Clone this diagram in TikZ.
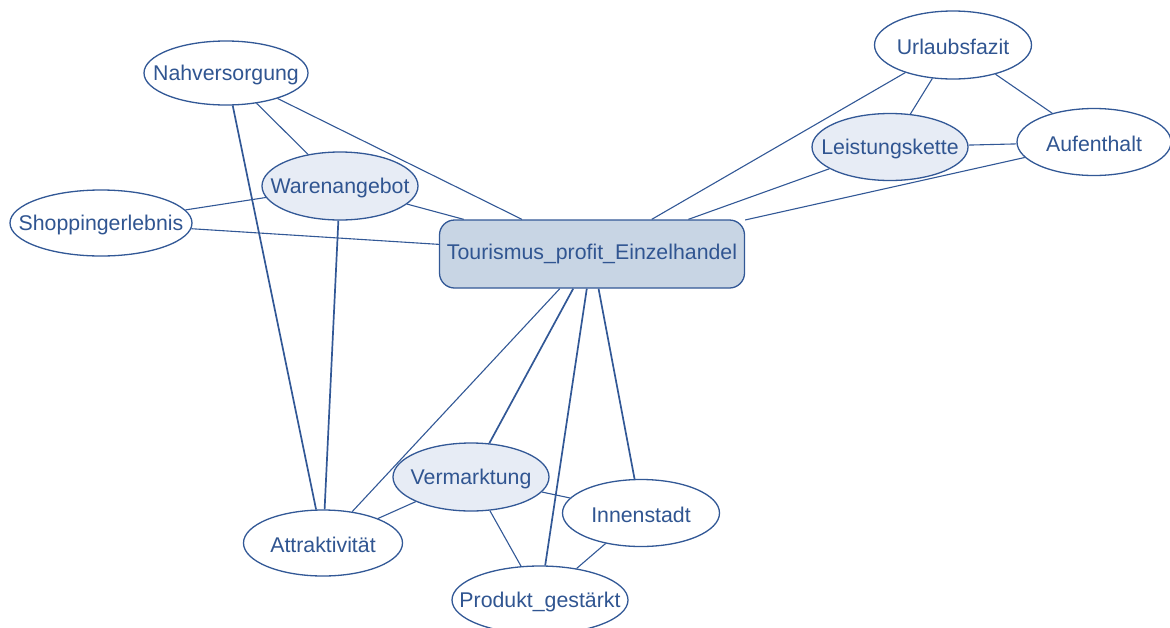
\documentclass[tikz,border=0pt]{standalone}
\usepackage{fontspec}
\setmainfont{Liberation Sans}
\usetikzlibrary{shapes.geometric}
\definecolor{edgeblue}{RGB}{50,88,150}
\definecolor{txtblue}{RGB}{48,85,145}
\definecolor{lightfill}{RGB}{231,236,245}
\definecolor{mainfill}{RGB}{200,213,228}
\begin{document}
\begin{tikzpicture}[x=1pt,y=-1pt,
  every node/.style={font=\fontsize{21.3}{25}\selectfont, text=txtblue},
  ell/.style n args={3}{ellipse, draw=edgeblue, line width=1.3pt, fill=white, inner sep=0pt,
    minimum width=#1pt, minimum height=#2pt,
    label={[text=txtblue, font=\fontsize{21.3}{25}\selectfont, yshift=-2pt]center:#3}},
  hl/.style={fill=lightfill},
  mainbox/.style={rectangle, rounded corners=15pt, draw=edgeblue, line width=1.3pt, fill=mainfill,
    minimum width=305pt, minimum height=68pt, inner sep=0pt},
  edge/.style={draw=edgeblue, line width=1.1pt},
  thick edge/.style={draw=edgeblue, line width=1.7pt}]
\useasboundingbox (0,0) rectangle (1170,627);
\clip (0,0) rectangle (1170,627);
% nodes
\node[mainbox] (c) at (592,254) {\raisebox{-2pt}{Tourismus\_profit\_Einzelhandel}};
\node[ell={164}{64}{Nahversorgung}] (nah) at (226,73) {};
\node[ell={156}{68}{Warenangebot}, hl] (war) at (340,186) {};
\node[ell={182}{66}{Shoppingerlebnis}] (sho) at (101,223) {};
\node[ell={157}{68}{Urlaubsfazit}] (url) at (953,45) {};
\node[ell={156}{67}{Leistungskette}, hl] (lei) at (890,147) {};
\node[ell={154}{67}{Aufenthalt}] (auf) at (1094,142) {};
\node[ell={156}{68}{Vermarktung}, hl] (ver) at (471,477) {};
\node[ell={157}{67}{Innenstadt}] (inn) at (641,513) {};
\node[ell={159}{66}{Attraktivität}] (att) at (323,543) {};
\node[ell={176}{68}{Produkt\_gestärkt}] (pro) at (540,600) {};
% edges
\draw[edge] (nah) -- (war);
\draw[edge] (nah) -- (c);
\draw[thick edge] (nah) -- (att);
\draw[thick edge] (war) -- (att);
\draw[edge] (war) -- (c);
\draw[edge] (sho) -- (war);
\draw[edge] (sho) -- (c);
\draw[edge] (url) -- (c);
\draw[edge] (url) -- (lei);
\draw[edge] (url) -- (auf);
\draw[edge] (lei) -- (auf);
\draw[edge] (lei) -- (c);
\draw[edge] (auf) -- (c);
\draw[edge] (c) -- (att);
\draw[thick edge] (c) -- (ver);
\draw[thick edge] (c) -- (pro);
\draw[thick edge] (c) -- (inn);
\draw[edge] (ver) -- (att);
\draw[edge] (ver) -- (inn);
\draw[edge] (ver) -- (pro);
\draw[edge] (inn) -- (pro);
\end{tikzpicture}
\end{document}
